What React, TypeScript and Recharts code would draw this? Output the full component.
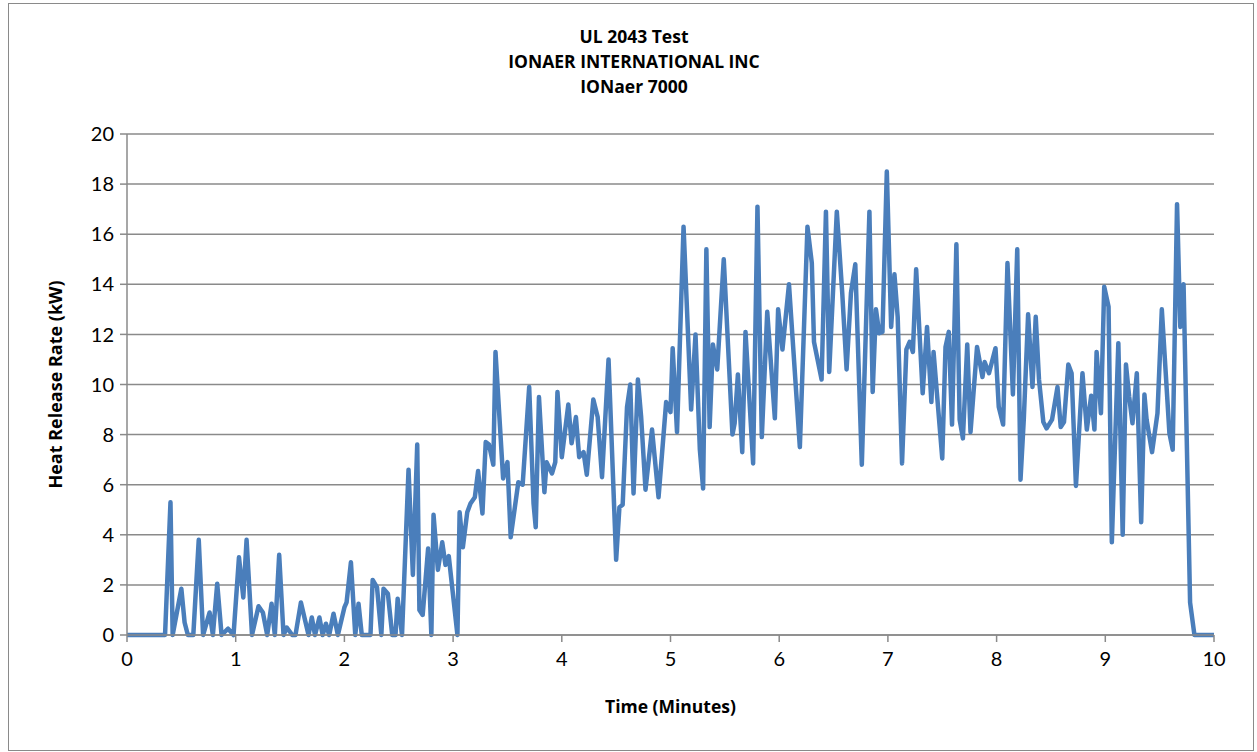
import React from 'react';
import { LineChart, Line, XAxis, YAxis, CartesianGrid } from 'recharts';

// Time in minutes and heat release rate in kW
const times = [
  0, 0.35, 0.4, 0.42, 0.5, 0.53, 0.56, 0.61, 0.66, 0.7, 0.76, 0.79, 0.83, 0.87, 0.93, 0.98,
  1.03, 1.07, 1.1, 1.15, 1.21, 1.25, 1.29, 1.33, 1.36, 1.4, 1.44, 1.47, 1.52, 1.55, 1.6, 1.67,
  1.7, 1.73, 1.77, 1.8, 1.83, 1.86, 1.9, 1.94, 2.0, 2.02, 2.06, 2.1, 2.13, 2.16, 2.24, 2.26,
  2.3, 2.34, 2.36, 2.4, 2.44, 2.47, 2.49, 2.53, 2.59, 2.63, 2.67, 2.69, 2.72, 2.77, 2.8, 2.82,
  2.86, 2.9, 2.93, 2.96, 3.04, 3.06, 3.09, 3.13, 3.16, 3.2, 3.23, 3.27, 3.3, 3.33, 3.37, 3.39,
  3.46, 3.5, 3.53, 3.6, 3.64, 3.7, 3.74, 3.76, 3.79, 3.84, 3.86, 3.91, 3.94, 3.96, 4.0, 4.06,
  4.09, 4.13, 4.16, 4.2, 4.23, 4.29, 4.33, 4.37, 4.43, 4.5, 4.53, 4.56, 4.6, 4.63, 4.66, 4.7,
  4.73, 4.77, 4.83, 4.89, 4.96, 5.0, 5.02, 5.06, 5.12, 5.19, 5.23, 5.27, 5.3, 5.33, 5.36, 5.39,
  5.43, 5.49, 5.57, 5.59, 5.62, 5.66, 5.69, 5.76, 5.8, 5.84, 5.89, 5.96, 5.99, 6.03, 6.09, 6.19,
  6.26, 6.3, 6.32, 6.39, 6.43, 6.46, 6.53, 6.58, 6.62, 6.66, 6.7, 6.76, 6.83, 6.86, 6.89, 6.92,
  6.95, 6.99, 7.03, 7.06, 7.09, 7.13, 7.17, 7.2, 7.23, 7.26, 7.32, 7.36, 7.4, 7.42, 7.5, 7.53,
  7.56, 7.59, 7.63, 7.66, 7.69, 7.73, 7.76, 7.82, 7.87, 7.89, 7.93, 7.99, 8.02, 8.06, 8.1, 8.15,
  8.19, 8.22, 8.25, 8.29, 8.33, 8.36, 8.39, 8.43, 8.46, 8.51, 8.56, 8.59, 8.62, 8.66, 8.69, 8.73,
  8.79, 8.83, 8.87, 8.9, 8.92, 8.96, 8.99, 9.03, 9.06, 9.12, 9.16, 9.19, 9.22, 9.25, 9.29, 9.33,
  9.36, 9.38, 9.43, 9.48, 9.52, 9.59, 9.62, 9.66, 9.69, 9.72, 9.78, 9.82, 10.0,
];

const hrr = [
  0, 0, 5.3, 0, 1.85, 0.5, 0, 0, 3.8, 0, 0.9, 0, 2.05, 0, 0.25, 0,
  3.1, 1.5, 3.8, 0, 1.15, 0.9, 0, 1.25, 0, 3.2, 0, 0.3, 0, 0, 1.3, 0,
  0.7, 0, 0.7, 0, 0.45, 0, 0.85, 0, 1.1, 1.3, 2.9, 0, 1.25, 0, 0, 2.2,
  1.9, 0, 1.85, 1.65, 0, 0, 1.45, 0, 6.6, 2.4, 7.6, 1.0, 0.8, 3.45, 0, 4.8,
  2.6, 3.7, 2.8, 3.15, 0, 4.9, 3.5, 4.9, 5.25, 5.5, 6.55, 4.85, 7.7, 7.6, 6.8, 11.3,
  6.25, 6.9, 3.9, 6.1, 6.0, 9.9, 5.25, 4.3, 9.5, 5.7, 6.9, 6.45, 6.9, 9.7, 7.1, 9.2,
  7.65, 8.7, 7.1, 7.3, 6.4, 9.4, 8.7, 6.3, 11.0, 3.0, 5.1, 5.2, 9.1, 10.0, 5.65, 10.2,
  8.7, 5.8, 8.2, 5.5, 9.3, 8.9, 11.45, 8.1, 16.3, 9.0, 12.0, 7.4, 5.85, 15.4, 8.3, 11.6,
  10.6, 15.0, 8.0, 8.45, 10.4, 7.3, 12.1, 6.85, 17.1, 7.9, 12.9, 8.65, 13.0, 11.4, 14.0, 7.5,
  16.3, 14.85, 11.7, 10.2, 16.9, 10.5, 16.9, 13.65, 10.6, 13.65, 14.8, 6.8, 16.9, 9.7, 13.0, 12.05,
  12.1, 18.5, 12.3, 14.4, 12.7, 6.85, 11.4, 11.7, 11.3, 14.6, 9.65, 12.3, 9.3, 11.3, 7.05, 11.5,
  12.1, 8.4, 15.6, 8.6, 7.85, 11.6, 8.1, 11.5, 10.3, 10.9, 10.45, 11.45, 9.1, 8.4, 14.85, 9.6,
  15.4, 6.2, 8.6, 12.8, 9.9, 12.7, 10.2, 8.5, 8.25, 8.6, 9.9, 8.3, 8.5, 10.8, 10.45, 5.95,
  10.45, 8.2, 9.55, 8.2, 11.3, 8.85, 13.9, 13.1, 3.7, 11.65, 4.0, 10.8, 9.5, 8.45, 10.45, 4.5,
  9.6, 8.6, 7.3, 8.85, 13.0, 8.05, 7.4, 17.2, 12.3, 14.0, 1.3, 0, 0,
];

const xTicks = [0, 1, 2, 3, 4, 5, 6, 7, 8, 9, 10];
const yTicks = [0, 2, 4, 6, 8, 10, 12, 14, 16, 18, 20];
const titleLines = ['UL 2043 Test', 'IONAER INTERNATIONAL INC', 'IONaer 7000'];

const data = times.map((t, i) => ({ t, hrr: hrr[i] }));

const FONT = 'Lato, "Open Sans", sans-serif';
const LABEL_FONT = '"Open Sans", Lato, sans-serif';
const GRAY = '#8a8a8a';

export default function App() {
  return (
    <div style={{ position: 'absolute', left: 0, top: 0, width: 1257, height: 752, fontFamily: FONT }}>
      {/* outer chart frame */}
      <div
        style={{
          position: 'absolute',
          left: 8,
          top: 3,
          width: 1244,
          height: 746,
          border: `1.5px solid ${GRAY}`,
        }}
      />
      {/* title */}
      <div
        style={{
          position: 'absolute',
          left: 8,
          top: 24,
          width: 1252,
          textAlign: 'center',
          fontWeight: 700,
          fontSize: 17.5,
          fontFamily: LABEL_FONT,
          lineHeight: '25px',
          color: '#000',
        }}
      >
        {titleLines.map((l) => (
          <div key={l}>{l}</div>
        ))}
      </div>
      <div style={{ position: 'absolute', left: 0, top: 0 }}>
        <LineChart width={1257} height={752} data={data} margin={{ top: 134, right: 43, bottom: 77, left: 67 }}>
          <CartesianGrid horizontal vertical={false} stroke={GRAY} strokeWidth={1.5} />
          <XAxis
            dataKey="t"
            type="number"
            domain={[0, 10]}
            ticks={xTicks}
            interval={0}
            height={40}
            stroke={GRAY}
            strokeWidth={1.5}
            tickSize={7}
            tickMargin={10}
            tick={{ fill: '#000', fontSize: 20, fontFamily: FONT }}
            label={{
              value: 'Time (Minutes)',
              position: 'insideBottom',
              offset: -38,
              style: { fill: '#000', fontSize: 17.5, fontWeight: 700, fontFamily: LABEL_FONT },
            }}
          />
          <YAxis
            type="number"
            domain={[0, 20]}
            ticks={yTicks}
            interval={0}
            width={60}
            stroke={GRAY}
            strokeWidth={1.5}
            tickSize={7}
            tickMargin={6}
            tick={{ fill: '#000', fontSize: 20, fontFamily: FONT }}
            label={{
              value: 'Heat Release Rate (kW)',
              angle: -90,
              position: 'insideLeft',
              offset: -11,
              style: { textAnchor: 'middle', fill: '#000', fontSize: 18, fontWeight: 700, fontFamily: LABEL_FONT },
            }}
          />
          <Line
            type="linear"
            dataKey="hrr"
            stroke="#4a7ebb"
            strokeWidth={4.5}
            dot={false}
            isAnimationActive={false}
            strokeLinejoin="round"
          />
        </LineChart>
      </div>
    </div>
  );
}
